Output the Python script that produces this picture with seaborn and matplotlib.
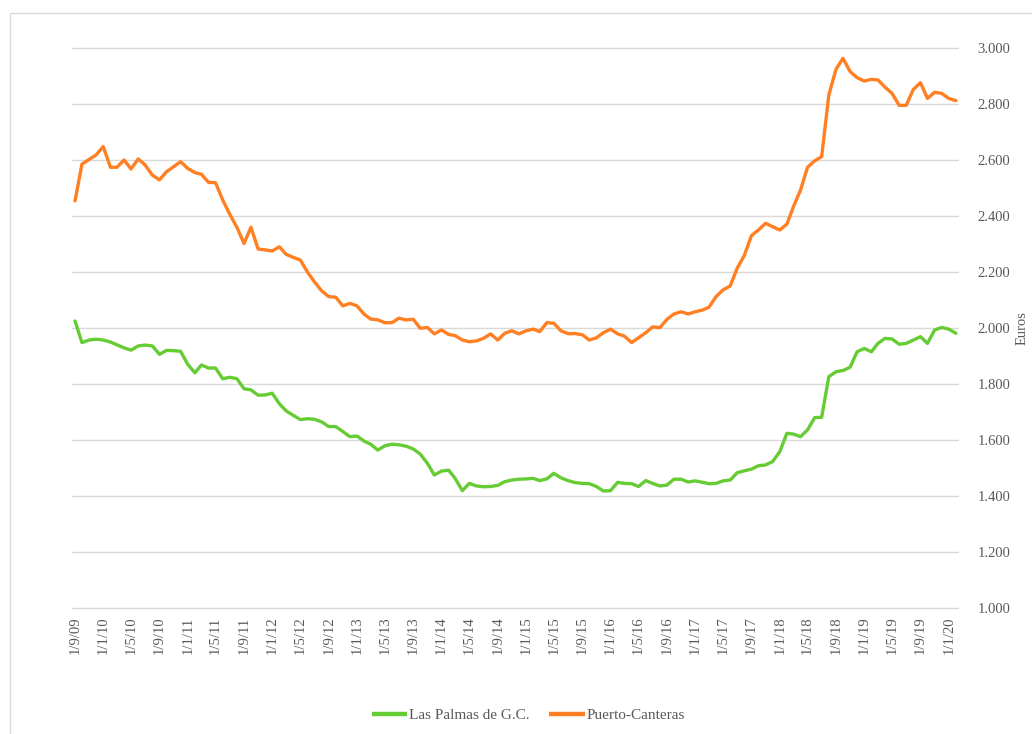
import numpy as np
import pandas as pd
import matplotlib
matplotlib.use("Agg")
import matplotlib.pyplot as plt
import matplotlib.patches as mpatches
import seaborn as sns

# ---------------- data ----------------
start_date = "2009-09-01"
n_months = 126

las_palmas = [
    2025, 1948, 1957, 1960, 1957, 1950, 1940, 1929, 1921, 1936,
    1939, 1936, 1906, 1920, 1919, 1917, 1870, 1840, 1868, 1857,
    1857, 1819, 1824, 1819, 1783, 1779, 1760, 1761, 1767, 1729,
    1704, 1688, 1673, 1676, 1674, 1665, 1648, 1648, 1630, 1612,
    1614, 1596, 1585, 1564, 1579, 1585, 1583, 1578, 1568, 1550,
    1517, 1475, 1489, 1492, 1463, 1419, 1445, 1436, 1433, 1434,
    1438, 1451, 1457, 1460, 1461, 1463, 1455, 1461, 1481, 1465,
    1455, 1448, 1445, 1444, 1434, 1418, 1419, 1449, 1445, 1444,
    1434, 1455, 1445, 1436, 1439, 1460, 1460, 1450, 1454, 1449,
    1444, 1445, 1454, 1457, 1483, 1490, 1496, 1508, 1511, 1523,
    1558, 1624, 1621, 1612, 1636, 1680, 1681, 1826, 1844, 1848,
    1860, 1915, 1927, 1915, 1945, 1963, 1961, 1942, 1945, 1957,
    1969, 1945, 1993, 2002, 1996, 1981,
]

puerto_canteras = [
    2454, 2585, 2602, 2618, 2648, 2574, 2574, 2600, 2568, 2604,
    2582, 2546, 2529, 2558, 2576, 2594, 2570, 2555, 2549, 2520,
    2519, 2457, 2407, 2360, 2302, 2360, 2282, 2279, 2275, 2290,
    2263, 2252, 2243, 2200, 2165, 2133, 2112, 2110, 2079, 2088,
    2079, 2049, 2032, 2029, 2019, 2019, 2035, 2029, 2031, 1999,
    2002, 1979, 1993, 1977, 1973, 1957, 1951, 1954, 1963, 1979,
    1957, 1981, 1990, 1979, 1990, 1996, 1987, 2019, 2017, 1990,
    1980, 1980, 1976, 1957, 1965, 1983, 1996, 1979, 1971, 1948,
    1965, 1983, 2004, 2001, 2031, 2050, 2058, 2050, 2058, 2064,
    2074, 2112, 2136, 2150, 2213, 2259, 2330, 2350, 2374, 2362,
    2350, 2371, 2433, 2493, 2574, 2597, 2612, 2832, 2924, 2963,
    2916, 2894, 2882, 2888, 2886, 2860, 2838, 2795, 2795, 2852,
    2876, 2820, 2842, 2838, 2820, 2812,
]

series_names = ["Las Palmas de G.C.", "Puerto-Canteras"]
series_colors = ["#66CC33", "#FF7F22"]

y_ticks = [1000, 1200, 1400, 1600, 1800, 2000, 2200, 2400, 2600, 2800, 3000]
y_label = "Euros"

dates = pd.date_range(start_date, periods=n_months, freq="MS")
tick_dates = pd.date_range("2009-09-01", "2020-01-01", freq="4MS")
tick_labels = [f"{d.day}/{d.month}/{d.year % 100:02d}" for d in tick_dates]
y_tick_labels = [f"{v:,}".replace(",", ".") for v in y_ticks]

df = pd.DataFrame({
    "Fecha": np.concatenate([dates, dates]),
    "Euros": las_palmas + puerto_canteras,
    "Serie": [series_names[0]] * n_months + [series_names[1]] * n_months,
})

# ---------------- style ----------------
sns.set_style("white")
plt.rcParams["font.family"] = ["Liberation Serif", "DejaVu Serif"]
text_color = "#595959"
grid_color = "#D9D9D9"

fig = plt.figure(figsize=(10.32, 7.34), dpi=100)
ax = fig.add_axes([72 / 1032, (734 - 608) / 734, (958 - 72) / 1032, 560 / 734])

sns.lineplot(data=df, x="Fecha", y="Euros", hue="Serie",
             palette=dict(zip(series_names, series_colors)),
             linewidth=2.4, legend=False, ax=ax)
for ln in ax.get_lines():
    ln.set_solid_joinstyle("round")
    ln.set_solid_capstyle("round")

ax.set_ylim(y_ticks[0], y_ticks[-1])
ax.set_xlim(dates[0] - pd.Timedelta(days=13), dates[-1] + pd.Timedelta(days=9))

ax.set_yticks(y_ticks)
ax.set_yticklabels(y_tick_labels)
ax.yaxis.tick_right()
ax.yaxis.set_label_position("right")
ax.set_ylabel(y_label, color=text_color, fontsize=10.5, labelpad=4)

ax.set_xticks(tick_dates)
ax.set_xticklabels(tick_labels, rotation=90)
ax.set_xlabel("")

ax.tick_params(axis="both", length=0, colors=text_color, labelsize=10.5)
ax.tick_params(axis="y", pad=14)
ax.tick_params(axis="x", pad=6)

ax.grid(axis="y", color=grid_color, linewidth=1)
ax.grid(axis="x", visible=False)
ax.set_axisbelow(True)
for gl in ax.get_ygridlines():
    gl.set_clip_on(False)
for s in ax.spines.values():
    s.set_visible(False)

handles = [plt.Line2D([], [], color=c, linewidth=3.2, solid_capstyle="butt") for c in series_colors]
fig.legend(handles, series_names, loc="center", bbox_to_anchor=(0.512, 0.025),
           ncol=2, frameon=False, fontsize=11, handlelength=2.3,
           handletextpad=0.15, columnspacing=1.3, labelcolor=text_color)

# chart frame (light border)
fig.patches.append(mpatches.Rectangle((10 / 1032, -0.1), 1.2, (734 - 13) / 734 + 0.1,
                                      transform=fig.transFigure, fill=False,
                                      edgecolor=grid_color, linewidth=1))

fig.savefig("out.png", dpi=100)
